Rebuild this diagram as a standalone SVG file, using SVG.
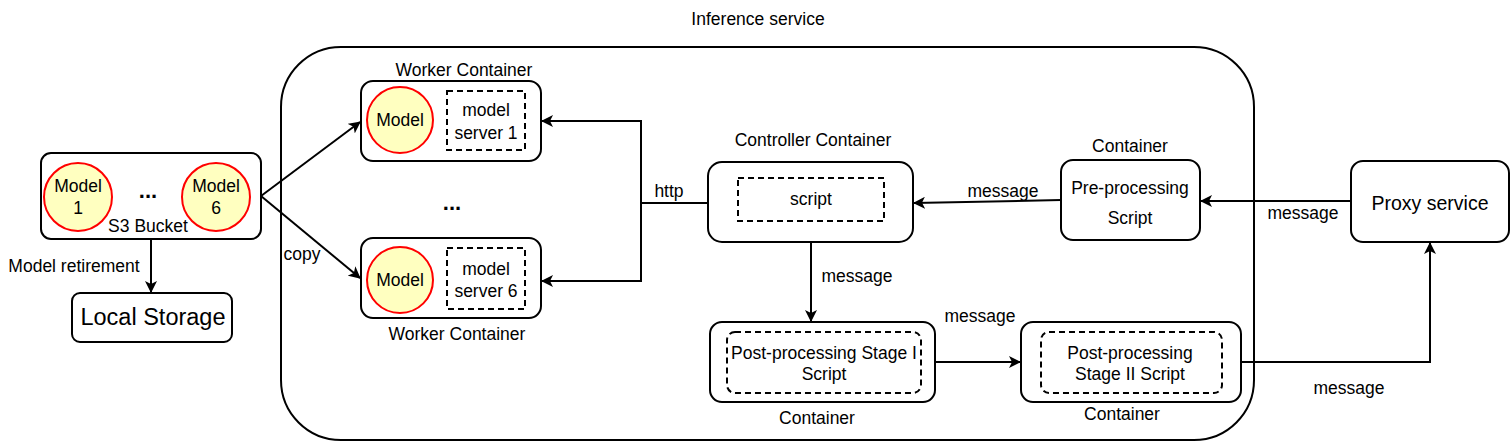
<svg xmlns="http://www.w3.org/2000/svg" width="1512" height="442" viewBox="0 0 1512 442">
<style>
text{font-family:"Liberation Sans",Arial,sans-serif;font-size:17.5px;fill:#000;text-anchor:middle}
.box{fill:#fff;stroke:#000;stroke-width:2}
.dash{fill:none;stroke:#000;stroke-width:2;stroke-dasharray:6 4}
.model{fill:#ffffc0;stroke:#ff0000;stroke-width:2}
.ln{fill:none;stroke:#000;stroke-width:2}
</style>
<defs>
<marker id="ah" viewBox="0 0 12 12" refX="11" refY="6" markerWidth="12" markerHeight="12" markerUnits="userSpaceOnUse" orient="auto">
<path d="M0,0 L12,6 L0,12 L3,6 Z" fill="#000"/>
</marker>
</defs>
<rect width="1512" height="442" fill="#fff"/>

<g id="inference-service">
<rect x="281" y="47" width="973" height="393" rx="60" ry="60" fill="none" stroke="#000" stroke-width="2"/>
<text x="758" y="25">Inference service</text>
</g>

<g id="s3-bucket">
<rect class="box" x="41" y="153" width="220" height="86" rx="10"/>
<circle class="model" cx="78" cy="197" r="34"/>
<text x="78" y="192">Model</text><text x="78" y="214">1</text>
<circle class="model" cx="216" cy="197" r="34"/>
<text x="216" y="192">Model</text><text x="216" y="214">6</text>
<text x="148" y="198" style="font-size:22px;font-weight:bold">...</text>
<text x="148" y="232">S3 Bucket</text>
</g>

<g id="local-storage">
<rect class="box" x="72" y="293" width="160" height="49" rx="8"/>
<text x="153" y="325" style="font-size:23.5px">Local Storage</text>
</g>

<g id="worker-1">
<rect class="box" x="361" y="81" width="180" height="80" rx="12"/>
<circle class="model" cx="400" cy="120" r="33"/>
<text x="400" y="126">Model</text>
<rect class="dash" x="447" y="91" width="78" height="59"/>
<text x="486" y="116">model</text><text x="486" y="139">server 1</text>
<text x="464" y="76">Worker Container</text>
</g>

<text x="452" y="210" style="font-size:22px;font-weight:bold">...</text>

<g id="worker-6">
<rect class="box" x="361" y="238" width="180" height="80" rx="12"/>
<circle class="model" cx="400" cy="280" r="33"/>
<text x="400" y="286">Model</text>
<rect class="dash" x="447" y="248" width="78" height="61"/>
<text x="486" y="275">model</text><text x="486" y="297">server 6</text>
<text x="457" y="340">Worker Container</text>
</g>

<g id="controller">
<rect class="box" x="708" y="162" width="205" height="80" rx="14"/>
<rect class="dash" x="738" y="178" width="146" height="43"/>
<text x="811" y="205">script</text>
<text x="813" y="146">Controller Container</text>
</g>

<g id="pre-processing">
<rect class="box" x="1061" y="160" width="139" height="80" rx="12"/>
<text x="1130" y="194">Pre-processing</text>
<text x="1130" y="224">Script</text>
<text x="1130" y="152">Container</text>
</g>

<g id="proxy-service">
<rect class="box" x="1351" y="161" width="158" height="81" rx="12"/>
<text x="1430" y="210" style="font-size:19.5px">Proxy service</text>
</g>

<g id="post-1">
<rect class="box" x="710" y="322" width="225" height="80" rx="12"/>
<rect class="dash" x="727" y="332" width="194" height="61" rx="8"/>
<text x="824" y="359">Post-processing Stage I</text>
<text x="824" y="380">Script</text>
<text x="817" y="424">Container</text>
</g>

<g id="post-2">
<rect class="box" x="1021" y="322" width="220" height="80" rx="12"/>
<rect class="dash" x="1041" y="332" width="181" height="61" rx="8"/>
<text x="1130" y="359">Post-processing</text>
<text x="1130" y="380">Stage II Script</text>
<text x="1122" y="420">Container</text>
</g>

<g id="connectors">
<path class="ln" d="M151,239 L151,292" marker-end="url(#ah)"/>
<text x="74" y="272">Model retirement</text>
<path class="ln" d="M261,196 L360,122" marker-end="url(#ah)"/>
<path class="ln" d="M261,196 L360,278" marker-end="url(#ah)"/>
<text x="302" y="260">copy</text>
<path class="ln" d="M708,203 L641,203 L641,121 L542,121" marker-end="url(#ah)"/>
<path class="ln" d="M641,203 L641,281 L542,281" marker-end="url(#ah)"/>
<text x="669" y="197">http</text>
<path class="ln" d="M1061,200 L914,203" marker-end="url(#ah)"/>
<text x="1003" y="197">message</text>
<path class="ln" d="M1351,201 L1201,201" marker-end="url(#ah)"/>
<text x="1303" y="219">message</text>
<path class="ln" d="M811,242 L811,321" marker-end="url(#ah)"/>
<text x="857" y="282">message</text>
<path class="ln" d="M935,362 L1020,362" marker-end="url(#ah)"/>
<text x="980" y="322">message</text>
<path class="ln" d="M1241,362 L1430,362 L1430,243" marker-end="url(#ah)"/>
<text x="1349" y="394">message</text>
</g>
</svg>
